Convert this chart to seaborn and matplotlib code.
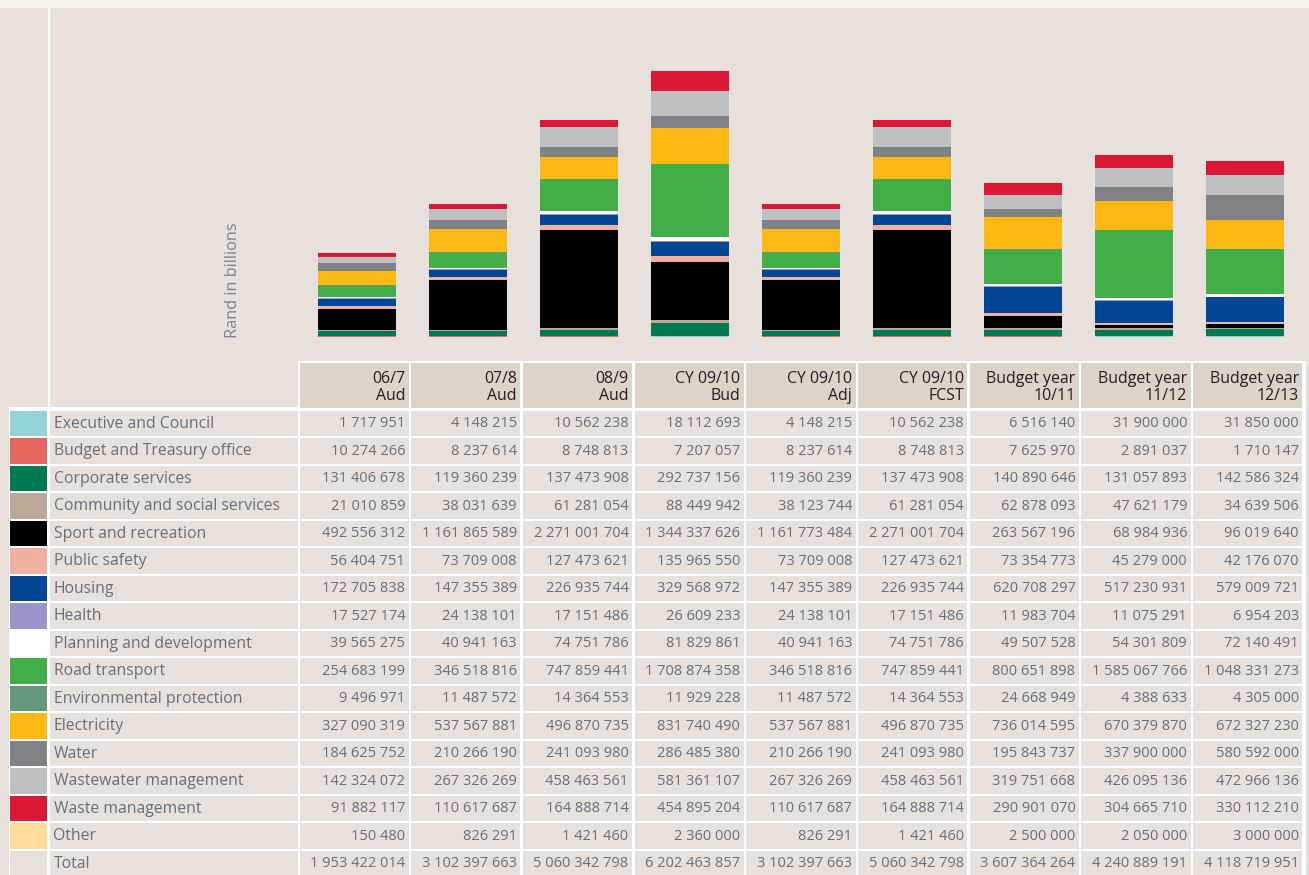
import numpy as np
import pandas as pd
import matplotlib
matplotlib.use("Agg")
import matplotlib.pyplot as plt
from matplotlib.patches import Rectangle
import seaborn as sns

# ---- data (rand) ----
periods = ["06/7\nAud", "07/8\nAud", "08/9\nAud", "CY 09/10\nBud", "CY 09/10\nAdj",
           "CY 09/10\nFCST", "Budget year\n10/11", "Budget year\n11/12", "Budget year\n12/13"]

categories = ["Executive and Council", "Budget and Treasury office", "Corporate services",
              "Community and social services", "Sport and recreation", "Public safety",
              "Housing", "Health", "Planning and development", "Road transport",
              "Environmental protection", "Electricity", "Water", "Wastewater management",
              "Waste management", "Other"]

executive = [1717951, 4148215, 10562238, 18112693, 4148215, 10562238, 6516140, 31900000, 31850000]
budget_treasury = [10274266, 8237614, 8748813, 7207057, 8237614, 8748813, 7625970, 2891037, 1710147]
corporate = [131406678, 119360239, 137473908, 292737156, 119360239, 137473908, 140890646, 131057893, 142586324]
community = [21010859, 38031639, 61281054, 88449942, 38123744, 61281054, 62878093, 47621179, 34639506]
sport = [492556312, 1161865589, 2271001704, 1344337626, 1161773484, 2271001704, 263567196, 68984936, 96019640]
public_safety = [56404751, 73709008, 127473621, 135965550, 73709008, 127473621, 73354773, 45279000, 42176070]
housing = [172705838, 147355389, 226935744, 329568972, 147355389, 226935744, 620708297, 517230931, 579009721]
health = [17527174, 24138101, 17151486, 26609233, 24138101, 17151486, 11983704, 11075291, 6954203]
planning = [39565275, 40941163, 74751786, 81829861, 40941163, 74751786, 49507528, 54301809, 72140491]
road = [254683199, 346518816, 747859441, 1708874358, 346518816, 747859441, 800651898, 1585067766, 1048331273]
environment = [9496971, 11487572, 14364553, 11929228, 11487572, 14364553, 24668949, 4388633, 4305000]
electricity = [327090319, 537567881, 496870735, 831740490, 537567881, 496870735, 736014595, 670379870, 672327230]
water = [184625752, 210266190, 241093980, 286485380, 210266190, 241093980, 195843737, 337900000, 580592000]
wastewater = [142324072, 267326269, 458463561, 581361107, 267326269, 458463561, 319751668, 426095136, 472966136]
waste = [91882117, 110617687, 164888714, 454895204, 110617687, 164888714, 290901070, 304665710, 330112210]
other = [150480, 826291, 1421460, 2360000, 826291, 1421460, 2500000, 2050000, 3000000]
totals = [1953422014, 3102397663, 5060342798, 6202463857, 3102397663, 5060342798,
          3607364264, 4240889191, 4118719951]

series = [executive, budget_treasury, corporate, community, sport, public_safety, housing,
          health, planning, road, environment, electricity, water, wastewater, waste, other]

colors = ["#93d3d6", "#e5675f", "#007a53", "#baa898", "#000000", "#f0b1a3", "#034694",
          "#9896c8", "#ffffff", "#42ae4a", "#64977b", "#fdb913", "#818285", "#bebfc1",
          "#da1735", "#fedb98"]
palette = dict(zip(categories, colors))

BG = "#e8e0da"
HEAD = "#dcd3c9"
TXT = "#6d6e71"
DARK = "#231f20"
FONT = ["Open Sans", "DejaVu Sans"]

rows = []
for cat, vals in zip(categories, series):
    for p, v in zip(periods, vals):
        rows.append({"period": p, "category": cat, "value": v / 1e9})
df = pd.DataFrame(rows)

sns.set_theme(style="white")
plt.rcParams["font.family"] = FONT

W, H = 1309, 875
fig = plt.figure(figsize=(W / 100, H / 100), dpi=100, facecolor=BG)

# ---- pixel-space layer for the table ----
tab = fig.add_axes([0, 0, 1, 1], facecolor=BG)
tab.set_xlim(0, W)
tab.set_ylim(H, 0)
tab.axis("off")

def box(x, y, w, h, color, z=1):
    tab.add_patch(Rectangle((x, y), w, h, facecolor=color, edgecolor="none", zorder=z))

box(0, 0, W, 8, "#f5f1eb")           # light band on top
box(47.5, 8, 2.5, H, "white")        # vertical rule
box(9, 407, 1297, H - 407, "white")  # table grid colour
box(297.5, 361, 1008.5, 50, "white")

col_left = [299.5 + 111.7 * j for j in range(len(periods))]
col_w = 109.2
row_top0, row_h = 409.5, 27.5

# header cells
for j, p in enumerate(periods):
    box(col_left[j], 363, col_w, 44.5, HEAD, 2)
    top, bot = p.split("\n")
    xr = col_left[j] + col_w - 3.5
    tab.text(xr, 379, top, ha="right", va="center", fontsize=11.4, color=DARK, zorder=3)
    tab.text(xr, 395.5, bot, ha="right", va="center", fontsize=11.4, color=DARK, zorder=3)

labels = categories + ["Total"]
values = series + [totals]
for i, (lab, vals) in enumerate(zip(labels, values)):
    y0 = row_top0 + row_h * i + 1
    yc = y0 + (row_h - 2) / 2
    # swatch
    sw = palette.get(lab, BG)
    box(9.5, y0, 37, row_h - 2, sw, 2)
    # label cell
    box(50, y0, 247.5, row_h - 2, BG, 2)
    tab.text(53.5, yc + 0.5, lab, ha="left", va="center", fontsize=11.3, color=TXT, zorder=3)
    for j, v in enumerate(vals):
        box(col_left[j], y0, col_w, row_h - 2, BG, 2)
        s = f"{v:,}".replace(",", " ")
        tab.text(col_left[j] + col_w - 3.5, yc + 0.5, s, ha="right", va="center",
                 fontsize=10.5, color=TXT, zorder=3)

tab.text(233, 338, "Rand in billions", rotation=90, ha="center", va="bottom",
         fontsize=11.7, color="#808184", zorder=3)

# ---- stacked bars ----
px_per_bn = 42.84
ymax = 6.5
bx0, bx1 = 301.5, 1300.5
by0 = 337
ax = fig.add_axes([bx0 / W, (H - by0) / H, (bx1 - bx0) / W, ymax * px_per_bn / H])
ax.set_facecolor("none")
sns.histplot(data=df, x="period", weights="value", hue="category",
             hue_order=categories[::-1], palette=palette, multiple="stack",
             discrete=True, shrink=0.703, alpha=1, linewidth=0, legend=False, ax=ax)
ax.set_xlim(-0.5, len(periods) - 0.5)
ax.set_ylim(0, ymax)
ax.axis("off")

fig.savefig("out.png", dpi=100, facecolor=BG)
